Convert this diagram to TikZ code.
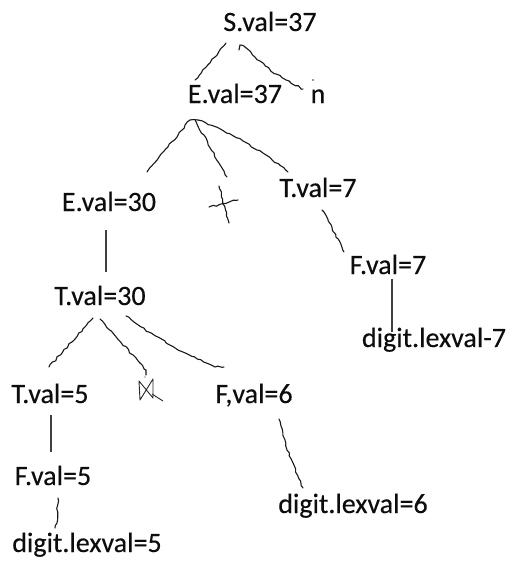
\documentclass[tikz,border=0pt]{standalone}
\usepackage{fontspec}
\setmainfont{Carlito}
\newfontfamily\labelfont{Carlito}[FakeBold=0.35]
\usetikzlibrary{calc,decorations.pathmorphing}

\begin{document}
\begin{tikzpicture}[
  x=1pt, y=-1pt,
  attr/.style={inner sep=0pt, anchor=base, text=black!95, font=\labelfont\fontsize{28}{30}\selectfont},
  hand/.style={draw=black!90, line width=1.1pt, line cap=round, line join=miter,
               decorate, decoration={random steps, segment length=3.5pt, amplitude=0.9pt}},
  rule/.style={draw=black!75, line width=1.6pt},
  glyph/.style={draw=black!85, line width=0.9pt, line join=round}
]
\pgfmathsetseed{7}
\useasboundingbox (0,0) rectangle (512,563);

\node[attr] (s)   at (270, 31) {S.val=37};
\node[attr] (e37) at (235,103) {E.val=37};
\node[attr] (n)   at (318,103) {n};
\node[attr] (e30) at (109,211) {E.val=30};
\node[attr] (t7)  at (318,197) {T.val=7};
\node[attr] (f7)  at (388,274) {F.val=7};
\node[attr] (d7)  at (434,347) {digit.lexval-7};
\node[attr] (t30) at (100,305) {T.val=30};
\node[attr] (t5)  at ( 50,403) {T.val=5};
\node[attr] (f6)  at (254,403) {F,val=6};
\node[attr] (f5)  at ( 53,485) {F.val=5};
\node[attr] (d5)  at ( 87,552) {digit.lexval=5};
\node[attr] (d6)  at (353,513) {digit.lexval=6};
\coordinate (plus) at (224,203);
\coordinate (star) at (146,390);

% S -> E n
\draw[hand] ($(s.base)+(-44,12)$) -- ($(e37.base)+(-40,-23)$);
\draw[hand] ($(s.base)+(-31,19)$) -- ++(1,-5) -- ++(5,2) to[bend right=10] ($(n.base)+(-15,-14)$);
\fill[black!80] ($(n.base)+(-5,-23)$) circle (0.8);

% E -> E + T
\draw[hand] ($(e37.base)+(-45,17)$) -- ($(e37.base)+(-37,17)$);
\draw[hand] ($(e37.base)+(-45,17)$) -- ($(e30.base)+(38,-39)$);
\draw[hand] ($(e37.base)+(-40,17)$) -- ($(plus)+(3,-26)$);
\draw[hand] ($(e37.base)+(-37,17)$) to[bend left=8] ($(t7.base)+(-30,-25)$);
\draw[hand] ($(plus)+(-5,-17)$) -- ($(plus)+(5,20)$);
\draw[hand] ($(plus)+(-15,4)$) -- ($(plus)+(14,-3)$);

\draw[rule] ($(e30.base)+(-3,19)$) -- ($(t30.base)+(6,-33)$);
\draw[hand] ($(t7.base)+(4,13)$) -- ++(2,2) -- ($(f7.base)+(-44,-22)$);
\draw[rule] ($(f7.base)+(4,5)$) -- ($(d7.base)+(-42,-15)$);

% T -> T * F
\draw[hand] ($(t30.base)+(-7,13)$) -- ($(t5.base)+(-1,-36)$);
\draw[hand] ($(t30.base)+(0,14)$) -- ($(star)+(0,-20)$) -- ($(star)+(0,-15)$);
\draw[hand] ($(t30.base)+(26,11)$) to[bend right=6] ($(f6.base)+(-39,-36)$) -- ++(9,0);
\draw[glyph] ($(star)+(-7,-9)$) -- ($(star)+(-6,10)$) -- ($(star)+(7,-11)$) -- ($(star)+(7,8)$) -- cycle;
\draw[glyph] ($(star)+(6,4)$) -- ($(star)+(17,11)$);
\fill[black!80] ($(star)+(-1,-13)$) circle (0.7);

\draw[rule] ($(t5.base)+(1,12)$) -- ($(f5.base)+(-2,-33)$);
\draw[hand] ($(f5.base)+(5,13)$) -- ($(d5.base)+(-30,-29)$) -- ++(-2,5);
\draw[hand] ($(f6.base)+(25,16)$) to[bend right=5] ($(d6.base)+(-50,-25)$);
\end{tikzpicture}
\end{document}
